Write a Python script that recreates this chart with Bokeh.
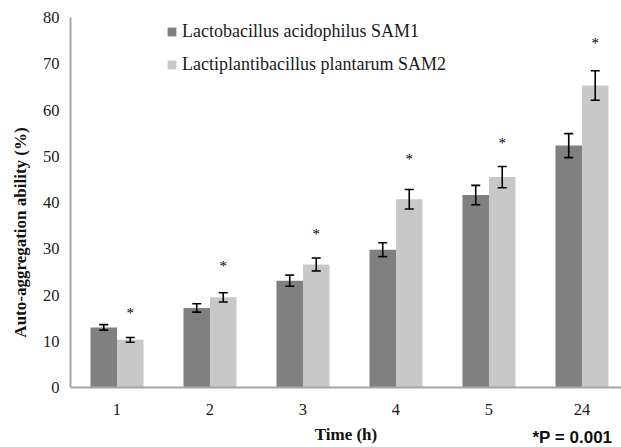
from bokeh.plotting import figure
from bokeh.models import (ColumnDataSource, Range1d, FixedTicker,
                          Legend, LegendItem, Label)
from bokeh.core.properties import value
from bokeh.embed import file_html
from bokeh.resources import INLINE

# ---- data ----
times = ["1", "2", "3", "4", "5", "24"]
sam1 = [13.0, 17.2, 23.1, 29.8, 41.6, 52.3]
sam1_err = [0.6, 0.9, 1.2, 1.5, 2.1, 2.6]
sam2 = [10.3, 19.5, 26.6, 40.7, 45.5, 65.3]
sam2_err = [0.5, 1.0, 1.4, 2.1, 2.3, 3.2]
star_y = [16.8, 26.9, 33.9, 50.0, 53.5, 75.2]
series_names = ["Lactobacillus acidophilus SAM1", "Lactiplantibacillus plantarum SAM2"]
y_ticks = [0, 10, 20, 30, 40, 50, 60, 70, 80]
p_note = "*P = 0.001"

DARK = "#808080"
LIGHT = "#c8c8c8"
BW = 0.285
SERIF = "Liberation Serif"

centers = [i + 0.5 for i in range(len(times))]
x1 = [c - BW / 2 for c in centers]
x2 = [c + BW / 2 for c in centers]

src1 = ColumnDataSource(dict(x=x1, top=sam1,
                             upper=[v + e for v, e in zip(sam1, sam1_err)],
                             lower=[v - e for v, e in zip(sam1, sam1_err)]))
src2 = ColumnDataSource(dict(x=x2, top=sam2,
                             upper=[v + e for v, e in zip(sam2, sam2_err)],
                             lower=[v - e for v, e in zip(sam2, sam2_err)],
                             sy=star_y, star=["*"] * len(times)))

# frame reaches the bottom of the canvas; the x axis is pinned at y = 0
p = figure(width=621, height=447, output_backend="svg", toolbar_location=None,
           x_range=Range1d(0, 5.925), y_range=Range1d(-12.97, 80),
           min_border_left=70, min_border_right=0, min_border_top=17, min_border_bottom=0)
p.outline_line_color = None
p.grid.visible = False
p.background_fill_color = "white"

r1 = p.vbar(x="x", top="top", width=BW, source=src1, fill_color=DARK, line_color=None)
r2 = p.vbar(x="x", top="top", width=BW, source=src2, fill_color=LIGHT, line_color=None)

for s in (src1, src2):
    p.segment(x0="x", y0="lower", x1="x", y1="upper", source=s,
              line_color="black", line_width=1.6)
    p.scatter(x="x", y="upper", source=s, marker="dash", size=9,
              line_color="black", line_width=1.6)
    p.scatter(x="x", y="lower", source=s, marker="dash", size=9,
              line_color="black", line_width=1.6)

p.text(x="x", y="sy", text="star", source=src2, text_align="center",
       text_baseline="middle", text_font=value(SERIF), text_font_size="15px",
       text_color="#000000", y_offset=3)

# axes
p.xaxis.ticker = FixedTicker(ticks=centers)
p.xaxis.major_label_overrides = {c: t for c, t in zip(centers, times)}
p.xaxis.fixed_location = 0
p.yaxis.ticker = FixedTicker(ticks=y_ticks)
p.yaxis.bounds = (0, 80)
for ax in (p.xaxis[0], p.yaxis[0]):
    ax.axis_line_color = "#a6a6a6"
    ax.axis_line_width = 2
    ax.major_tick_line_color = None
    ax.minor_tick_line_color = None
    ax.major_tick_out = 0
    ax.major_tick_in = 0
    ax.major_label_text_font = SERIF
    ax.major_label_text_font_size = "16.5px"
    ax.major_label_text_color = "#1a1a1a"
    ax.axis_label_text_font = SERIF
    ax.axis_label_text_font_style = "bold"
    ax.axis_label_text_font_size = "17px"
    ax.axis_label_text_color = "#111111"

p.xaxis.axis_label = "Time (h)"
p.xaxis.major_label_standoff = 16
p.xaxis.axis_label_standoff = 7
p.yaxis.axis_label = "Auto-aggregation ability (%)"
p.yaxis.major_label_standoff = 11
p.yaxis.axis_label_standoff = 10

legend = Legend(items=[LegendItem(label=series_names[0], renderers=[r1]),
                       LegendItem(label=series_names[1], renderers=[r2])],
                location=(96, 372), orientation="vertical",
                glyph_width=11, glyph_height=11, label_height=20, spacing=12,
                label_standoff=5, padding=0, margin=0,
                border_line_color=None, background_fill_alpha=0,
                label_text_font=SERIF, label_text_font_size="18px",
                label_text_color="#1a1a1a")
p.add_layout(legend)

plabel = Label(x=4.968, y=-10.9, text=p_note,
               text_font="Liberation Sans",
               text_font_style="bold", text_font_size="17px", text_color="#111111",
               text_baseline="middle", text_align="left")
p.add_layout(plabel)

open("out.html", "w").write(file_html(p, INLINE))
